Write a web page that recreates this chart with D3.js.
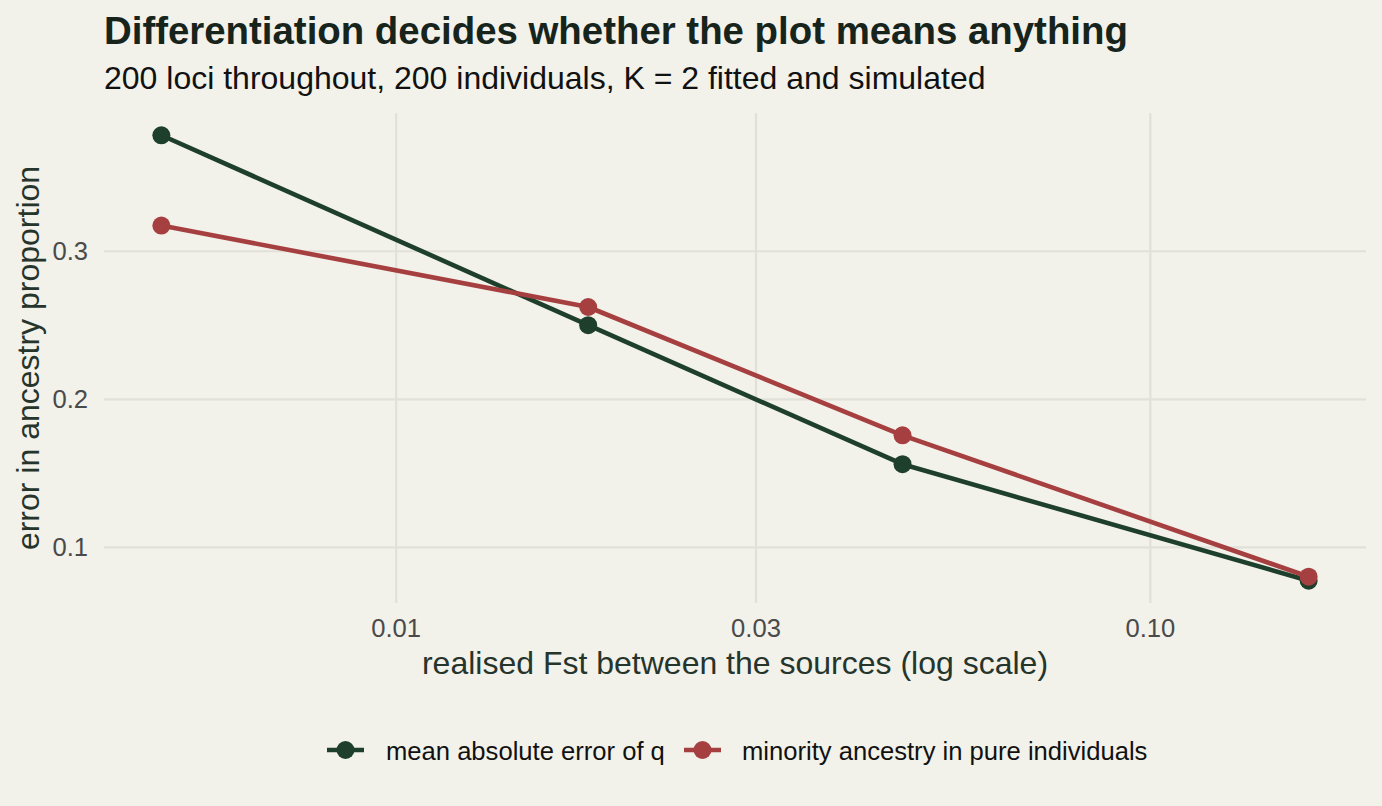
<!DOCTYPE html>
<html>
<head>
<meta charset="utf-8">
<script src="https://cdn.jsdelivr.net/npm/d3@7"></script>
<style>
  html, body { margin: 0; padding: 0; background: #f2f1ea; }
  svg { display: block; font-family: "Liberation Sans", Arial, Helvetica, sans-serif; }
</style>
</head>
<body>
<svg id="chart" width="1382" height="806"></svg>
<script>
// ---- data ----
const fst = [0.00489, 0.0180, 0.0470, 0.1624];
const meanAbsError = [0.378, 0.2497, 0.1558, 0.0771];
const minorityPure = [0.317, 0.262, 0.1753, 0.0798];
const seriesNames = ["mean absolute error of q", "minority ancestry in pure individuals"];
const xTicks = [0.01, 0.03, 0.10];
const xTickLabels = ["0.01", "0.03", "0.10"];
const yTicks = [0.1, 0.2, 0.3];
const yTickLabels = ["0.1", "0.2", "0.3"];

const colors = ["#1e3f2c", "#a63f3f"];
const series = [
  { name: seriesNames[0], values: meanAbsError, color: colors[0] },
  { name: seriesNames[1], values: minorityPure, color: colors[1] }
];

const svg = d3.select("#chart");
const W = 1382, H = 806;
svg.append("rect").attr("width", W).attr("height", H).attr("fill", "#f2f1ea");

const panel = { left: 104, right: 1366, top: 113, bottom: 603 };

// ggplot-style 5% expansion
const lx = d3.extent(fst).map(Math.log10);
const ex = (lx[1] - lx[0]) * 0.05;
const x = d3.scaleLog()
  .domain([Math.pow(10, lx[0] - ex), Math.pow(10, lx[1] + ex)])
  .range([panel.left, panel.right]);

const allY = meanAbsError.concat(minorityPure);
const yr = d3.extent(allY);
const ey = (yr[1] - yr[0]) * 0.05;
const y = d3.scaleLinear()
  .domain([yr[0] - ey, yr[1] + ey])
  .range([panel.bottom, panel.top]);

const gridColor = "#e2e1d8";

// grid lines via axes
const gx = svg.append("g")
  .attr("transform", `translate(0,${panel.bottom})`)
  .call(d3.axisBottom(x).tickValues(xTicks).tickSize(-(panel.bottom - panel.top)).tickFormat(""));
gx.select(".domain").remove();
gx.selectAll(".tick line").attr("stroke", gridColor).attr("stroke-width", 2.2);

const gy = svg.append("g")
  .attr("transform", `translate(${panel.left},0)`)
  .call(d3.axisLeft(y).tickValues(yTicks).tickSize(-(panel.right - panel.left)).tickFormat(""));
gy.select(".domain").remove();
gy.selectAll(".tick line").attr("stroke", gridColor).attr("stroke-width", 2.2);

// tick labels
const xLab = svg.append("g")
  .attr("transform", `translate(0,${panel.bottom})`)
  .call(d3.axisBottom(x).tickValues(xTicks).tickSize(0).tickPadding(0)
    .tickFormat((d, i) => xTickLabels[i]));
xLab.select(".domain").remove();
xLab.selectAll("text")
  .attr("font-size", 25.6).attr("fill", "#4a4a4a")
  .attr("font-family", "Liberation Sans, Arial, sans-serif")
  .attr("dy", null).attr("y", 34);

const yLab = svg.append("g")
  .attr("transform", `translate(${panel.left},0)`)
  .call(d3.axisLeft(y).tickValues(yTicks).tickSize(0).tickPadding(0)
    .tickFormat((d, i) => yTickLabels[i]));
yLab.select(".domain").remove();
yLab.selectAll("text")
  .attr("font-size", 25.6).attr("fill", "#4a4a4a")
  .attr("font-family", "Liberation Sans, Arial, sans-serif")
  .attr("x", -16).attr("dy", "0.35em");

// lines
const line = d3.line().x((d, i) => x(fst[i])).y(d => y(d));
series.forEach(s => {
  svg.append("path")
    .datum(s.values)
    .attr("d", line)
    .attr("fill", "none")
    .attr("stroke", s.color)
    .attr("stroke-width", 4.6)
    .attr("stroke-linejoin", "round");
});
series.forEach(s => {
  svg.append("g").selectAll("circle")
    .data(s.values)
    .join("circle")
    .attr("cx", (d, i) => x(fst[i]))
    .attr("cy", d => y(d))
    .attr("r", 9)
    .attr("fill", s.color);
});

// titles
svg.append("text")
  .attr("x", 104).attr("y", 43.5)
  .attr("font-size", 38.4).attr("font-weight", "bold")
  .attr("fill", "#16241c")
  .text("Differentiation decides whether the plot means anything");
svg.append("text")
  .attr("x", 104).attr("y", 89)
  .attr("font-size", 32).attr("fill", "#111111")
  .text("200 loci throughout, 200 individuals, K = 2 fitted and simulated");

// axis titles
svg.append("text")
  .attr("x", (panel.left + panel.right) / 2).attr("y", 673.5)
  .attr("text-anchor", "middle")
  .attr("font-size", 32).attr("fill", "#26352c")
  .text("realised Fst between the sources (log scale)");
svg.append("text")
  .attr("transform", `translate(39,${(panel.top + panel.bottom) / 2}) rotate(-90)`)
  .attr("text-anchor", "middle")
  .attr("font-size", 32).attr("fill", "#26352c")
  .text("error in ancestry proportion");

// legend
const legendY = 750;
const legendItems = [
  { x0: 327, textX: 386 },
  { x0: 684, textX: 742 }
];
series.forEach((s, i) => {
  const g = svg.append("g");
  const lx0 = legendItems[i].x0;
  g.append("line")
    .attr("x1", lx0).attr("x2", lx0 + 37)
    .attr("y1", legendY).attr("y2", legendY)
    .attr("stroke", s.color).attr("stroke-width", 4.6);
  g.append("circle")
    .attr("cx", lx0 + 18.5).attr("cy", legendY).attr("r", 9)
    .attr("fill", s.color);
  g.append("text")
    .attr("x", legendItems[i].textX).attr("y", legendY + 9.5)
    .attr("font-size", 25.6).attr("fill", "#111111")
    .text(s.name);
});
</script>
</body>
</html>
